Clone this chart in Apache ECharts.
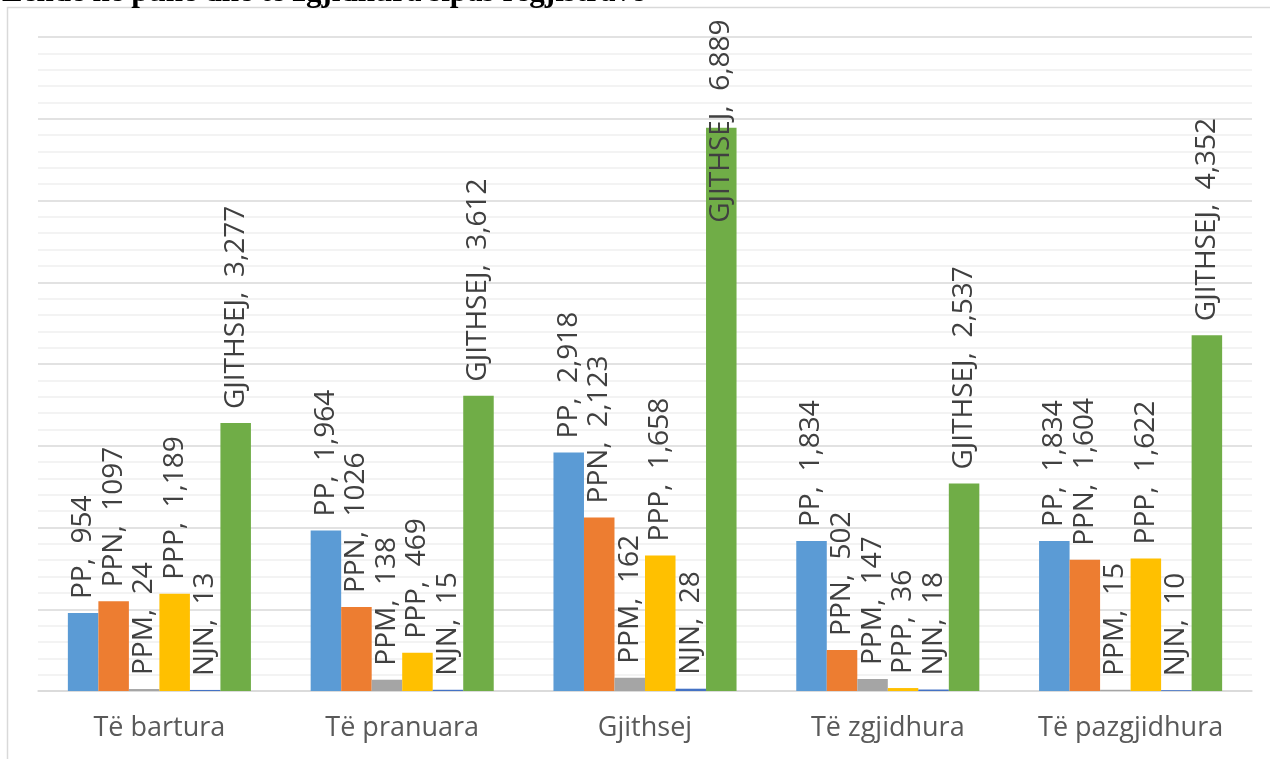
<!DOCTYPE html>
<html>
<head>
<meta charset="utf-8">
<script src="https://cdn.jsdelivr.net/npm/echarts@6/dist/echarts.min.js"></script>
<style>
html,body{margin:0;padding:0;background:#fff;}
#c{width:1270px;height:759px;}
</style>
</head>
<body>
<div id="c"></div>
<script>
const titleText = 'Lëndë në punë dhe të zgjidhura sipas regjistrave';
const categories = ['Të bartura', 'Të pranuara', 'Gjithsej', 'Të zgjidhura', 'Të pazgjidhura'];
const seriesNames = ['PP', 'PPN', 'PPM', 'PPP', 'NJN', 'GJITHSEJ'];
const ppValues = [954, 1964, 2918, 1834, 1834];
const ppnValues = [1097, 1026, 2123, 502, 1604];
const ppmValues = [24, 138, 162, 147, 15];
const pppValues = [1189, 469, 1658, 36, 1622];
const njnValues = [13, 15, 28, 18, 10];
const totalValues = [3277, 3612, 6889, 2537, 4352];
// labels shown without thousands separator in the original
const ungroupedLabels = [['PPN', 0], ['PPN', 1]];
const yMin = 0, yMax = 8000, yInterval = 1000;

const colors = ['#5b9bd5', '#ed7d31', '#a5a5a5', '#ffc000', '#4472c4', '#70ad47'];
const allValues = [ppValues, ppnValues, ppmValues, pppValues, njnValues, totalValues];

function fmt(name, idx, v) {
  const plain = ungroupedLabels.some(p => p[0] === name && p[1] === idx);
  return name + ',  ' + (plain ? String(v) : v.toLocaleString('en-US'));
}

const chart = echarts.init(document.getElementById('c'), null, {renderer: 'canvas'});
const series = seriesNames.map((name, si) => ({
  name: name,
  type: 'bar',
  barGap: '0%',
  barCategoryGap: '24.6%',
  itemStyle: {color: colors[si]},
  label: {
    show: true,
    position: 'top',
    rotate: 90,
    align: 'left',
    verticalAlign: 'middle',
    distance: 14,
    fontFamily: 'Open Sans',
    fontSize: 28,
    color: '#404040',
    formatter: p => fmt(name, p.dataIndex, p.value)
  },
  data: allValues[si].map((v, i) => {
    // the tallest total's label is pulled down inside the chart area
    if (name === 'GJITHSEJ' && v === Math.max.apply(null, totalValues)) {
      return {value: v, label: {position: ['50%', 95]}};
    }
    return v;
  })
}));

chart.setOption({
  animation: false,
  backgroundColor: '#ffffff',
  graphic: [
    {type: 'rect', z: -10, silent: true,
     shape: {x: 7.5, y: 7.5, width: 1300, height: 800},
     style: {fill: 'none', stroke: '#d9d9d9', lineWidth: 1.5}},
    {type: 'text', z: 10, silent: true, x: 2, y: 8,
     style: {text: titleText, font: 'bold 31px "Liberation Serif"', fill: '#000', verticalAlign: 'bottom', align: 'left'}}
  ],
  grid: {left: 38, right: 18, top: 37, bottom: 68},
  xAxis: {
    type: 'category',
    data: categories,
    axisLine: {lineStyle: {color: '#d9d9d9', width: 1.5}},
    axisTick: {show: false},
    axisLabel: {fontFamily: 'Open Sans', fontSize: 27, color: '#595959', margin: 24}
  },
  yAxis: {
    type: 'value',
    min: yMin, max: yMax, interval: yInterval,
    axisLabel: {show: false},
    axisLine: {show: false},
    axisTick: {show: false},
    splitLine: {lineStyle: {color: '#d9d9d9', width: 1.5}},
    minorTick: {show: false, splitNumber: 5},
    minorSplitLine: {show: true, lineStyle: {color: '#f0f0f0', width: 1.5}}
  },
  series: series
});
</script>
</body>
</html>
